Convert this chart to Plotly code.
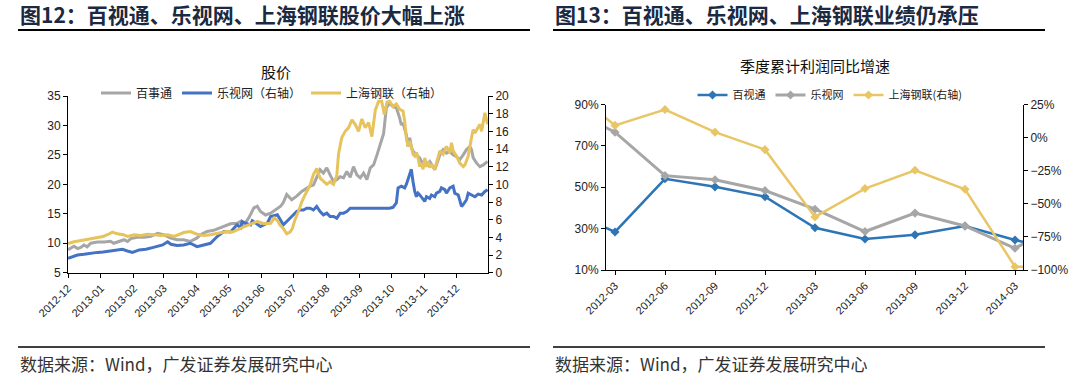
import pandas as pd
import numpy as np
import plotly.graph_objects as go

# ---------------- Left chart data (股价) ----------------
BASE_DATE = "2012-12-01"
bst_days = [0, 5.7, 9, 12, 15, 18, 21.4, 27.7, 34, 40, 43, 46.5, 52.8, 56, 59, 65.4, 71.7, 78, 84.3, 90.6,
            96, 102.5, 108.8, 115, 121.4, 124.5, 130.8, 137, 143.4, 148, 152.8, 159, 162.3, 165.4, 170, 174.8,
            178, 181, 185.8, 190.6, 196.9, 200, 202.5, 205.7, 210.4, 215.1, 219.8, 224.5, 227.7, 230.8, 233.9,
            237.1, 240.2, 243.4, 246.5, 249.7, 252.8, 256, 259.1, 262.2, 265.4, 268.5, 271.7, 274.8, 278, 281.1,
            284.3, 287.4, 290.6, 293.7, 296.8, 299.4, 302.5, 305.6, 308.8, 311.9, 313.5, 315.1, 318.2, 319.8,
            321.4, 322.9, 324.5, 327.7, 330.8, 332.4, 333.9, 335.5, 337.1, 340.2, 343.4, 344.9, 346.5, 349.7,
            352.8, 355.9, 359.1, 362.2, 365.4, 368.5, 371.7, 374.8, 378, 379.5, 381.1, 384.3, 387.4, 390.6, 394.6]
bst_vals = [8.9, 9.5, 9.1, 9.3, 9.7, 9.4, 10.0, 10.2, 10.2, 10.35, 10.0, 10.2, 10.6, 10.3, 10.8, 11.0, 11.0, 11.2,
            11.7, 11.4, 10.9, 10.6, 10.6, 10.3, 10.9, 11.45, 12.0, 12.2, 12.6, 12.9, 13.3, 13.4, 13.7, 13.1, 14.3,
            16.0, 16.3, 15.4, 14.8, 15.1, 16.0, 16.3, 16.9, 18.3, 17.4, 18.0, 18.8, 19.4, 19.7, 19.9, 21.3, 22.5,
            21.9, 22.8, 21.6, 20.5, 20.8, 21.3, 21.1, 22.2, 21.2, 23.0, 21.6, 21.1, 21.9, 20.8, 22.8, 23.3, 25.0,
            26.7, 28.6, 33.0, 33.8, 33.2, 33.0, 31.3, 30.1, 30.4, 28.4, 26.4, 27.9, 26.4, 25.6, 25.0, 24.5, 23.9,
            23.6, 24.2, 23.3, 23.9, 23.0, 22.5, 23.3, 25.0, 25.9, 25.3, 25.6, 25.0, 24.7, 24.2, 25.0, 25.9, 26.4,
            25.9, 24.5, 23.6, 23.0, 23.3, 23.9]

lsw_days = [0, 5, 8.8, 15, 21, 27.7, 33, 37.1, 42, 46.5, 51.2, 55.9, 60.6, 67, 73.3, 79.5, 84.3, 89, 93.7, 96.8,
            102.5, 108.8, 115, 121.4, 127.6, 134, 140.3, 146.5, 152.8, 159, 162.3, 163.8, 167, 171.7, 173.3, 178,
            181, 187.4, 190.6, 196.9, 199.4, 202.5, 205.7, 208.8, 211.9, 215.1, 218.2, 221.4, 224.5, 227.7, 230.8,
            233.9, 237.1, 240.2, 243.4, 246.5, 249.7, 252.8, 256, 259.1, 262.2, 265.4, 302.5, 305.6, 308.8, 310.4,
            313.5, 316.6, 318.2, 319.8, 321.4, 322.9, 324.5, 326.1, 327.7, 329.2, 330.8, 333.9, 335.5, 337.1, 340.2,
            341.8, 344.9, 346.5, 349.7, 351.2, 354.4, 355.9, 359.1, 362.2, 363.8, 367, 368.5, 370.1, 371.7, 373.3,
            374.8, 376.4, 379.5, 382.7, 385.8, 389, 392.1, 394.6]
lsw_vals = [1.63, 1.85, 2.0, 2.08, 2.2, 2.3, 2.35, 2.4, 2.5, 2.58, 2.65, 2.46, 2.3, 2.58, 2.65, 2.84, 2.95, 3.14,
            3.5, 3.22, 3.07, 3.14, 3.33, 2.95, 3.14, 3.33, 4.09, 4.66, 4.6, 5.42, 5.11, 5.8, 5.6, 5.42, 5.87, 5.5,
            5.23, 5.6, 6.36, 6.55, 6.0, 5.42, 5.8, 6.17, 6.55, 6.93, 7.1, 7.1, 7.3, 7.3, 7.1, 7.5, 6.93, 6.55, 6.74,
            6.36, 6.36, 6.17, 6.74, 6.74, 6.93, 7.3, 7.3, 7.4, 7.9, 9.6, 9.8, 9.6, 10.0, 10.5, 11.1, 11.7, 10.3, 9.2,
            8.6, 9.0, 8.8, 8.26, 8.07, 8.6, 8.4, 8.8, 8.6, 9.0, 9.2, 9.6, 9.4, 9.0, 9.6, 9.8, 9.0, 8.8, 8.07, 7.5,
            7.7, 8.07, 8.26, 9.0, 8.8, 8.6, 8.9, 8.8, 9.2, 9.4]

shgl_days = [0, 5.7, 15, 21, 27.7, 33, 37.1, 41.8, 46.5, 52, 55.9, 62.2, 68.5, 74.8, 81.1, 87.4, 93.7, 100, 108.8,
             115, 121.4, 127.6, 134, 143.4, 149.7, 155, 159, 165.4, 171.7, 178, 184.3, 190.6, 194, 197, 199.4, 202.5,
             205.7, 208.8, 211, 213.5, 216.6, 219.8, 222.9, 227.7, 230.8, 234, 237.1, 240.2, 243.4, 246.5, 249.7,
             252.8, 254.4, 257.5, 260.7, 263.8, 267, 270.1, 273.3, 276.4, 279.5, 282.7, 285.8, 289, 292.1, 295,
             297.5, 300, 302.5, 305.6, 308.8, 311.9, 315.1, 316.6, 318.2, 319.8, 321.4, 322.9, 324.5, 326.1, 327.7,
             329.2, 330.8, 332.4, 333.9, 335.5, 337.1, 338.7, 340.2, 341.8, 344.9, 346.5, 348.1, 349.7, 352.8,
             355.9, 359.1, 360.7, 362.2, 365.4, 368.5, 371.7, 373.3, 376.4, 379.5, 381.1, 382.7, 385.8, 387.4, 389,
             390.6, 392.1, 394.6]
shgl_vals = [3.3, 3.5, 3.7, 3.85, 4.0, 4.1, 4.3, 4.6, 4.4, 4.3, 4.1, 4.3, 4.2, 4.35, 4.3, 4.2, 4.3, 4.1, 4.55, 4.65,
             4.35, 4.2, 4.3, 4.55, 4.7, 4.6, 4.85, 5.2, 5.5, 5.8, 5.55, 5.6, 6.2, 5.9, 5.4, 5.0, 4.4, 4.6, 5.0, 6.0,
             6.9, 8.0, 8.8, 9.9, 11.1, 11.8, 10.7, 10.3, 10.0, 10.3, 10.0, 11.0, 13.4, 15.3, 16.0, 16.4, 17.3, 16.8,
             16.0, 17.4, 16.4, 17.0, 15.4, 18.4, 19.4, 19.4, 17.9, 19.3, 19.4, 18.8, 19.1, 18.5, 18.3, 17.2, 15.3,
             14.3, 14.9, 14.2, 13.4, 13.2, 13.6, 13.0, 12.0, 12.4, 11.7, 13.0, 12.0, 12.6, 11.9, 12.3, 11.7, 12.4,
             13.2, 13.8, 13.4, 14.3, 13.6, 14.7, 13.8, 13.2, 12.4, 12.0, 12.2, 13.2, 15.3, 16.2, 15.8, 16.4, 16.8,
             16.0, 17.3, 18.1, 16.8]

month_ticks = ["2012-12", "2013-01", "2013-02", "2013-03", "2013-04", "2013-05", "2013-06",
               "2013-07", "2013-08", "2013-09", "2013-10", "2013-11", "2013-12"]

# ---------------- Right chart data (季度累计利润同比增速) ----------------
quarters = ["2011-12", "2012-03", "2012-06", "2012-09", "2012-12", "2013-03", "2013-06",
            "2013-09", "2013-12", "2014-03", "2014-06"]
bst_growth = [39.5, 28.4, 54.1, 50.2, 45.4, 30.4, 25.0, 27.0, 31.3, 24.5, 18.9]
lsw_growth = [88.8, 76.6, 55.6, 53.6, 48.4, 39.4, 28.6, 37.5, 31.3, 20.5, 33.5]
shgl_growth = [39.8, 9.2, 21.2, 4.1, -9.1, -59.9, -38.5, -24.7, -39.0, -97.5, -97.5]
visible_quarters = quarters[1:-1]

# ---------------- Styling ----------------
W, H = 1080, 376
GRAY = "#A6A6A6"
BLUE_L = "#4472C4"
YEL_L = "#E6C35C"
BLUE_R = "#2E75B6"
YEL_R = "#E8C665"
CJK = "Noto Sans CJK SC"
NUM = "Liberation Sans"
TXT = "#222222"


def px_x(x):
    return x / W


def px_y(y):
    return 1 - y / H


def to_dates(days):
    return pd.Timestamp(BASE_DATE) + pd.to_timedelta(np.array(days), unit="D")


fig = go.Figure()

# left chart traces
fig.add_trace(go.Scatter(x=to_dates(bst_days), y=bst_vals, name="百事通", mode="lines",
                         line=dict(color=GRAY, width=3), xaxis="x", yaxis="y", legend="legend"))
fig.add_trace(go.Scatter(x=to_dates(lsw_days), y=lsw_vals, name="乐视网（右轴）", mode="lines",
                         line=dict(color=BLUE_L, width=3), xaxis="x", yaxis="y2", legend="legend"))
fig.add_trace(go.Scatter(x=to_dates(shgl_days), y=shgl_vals, name="上海钢联（右轴）", mode="lines",
                         line=dict(color=YEL_L, width=3), xaxis="x", yaxis="y2", legend="legend"))

# right chart traces
qx = np.arange(len(quarters)) - 1
fig.add_trace(go.Scatter(x=qx, y=np.array(bst_growth) / 100, name="百视通", mode="lines+markers",
                         line=dict(color=BLUE_R, width=2.5), marker=dict(symbol="diamond", size=7, color=BLUE_R),
                         xaxis="x2", yaxis="y3", legend="legend2"))
fig.add_trace(go.Scatter(x=qx, y=np.array(lsw_growth) / 100, name="乐视网", mode="lines+markers",
                         line=dict(color=GRAY, width=3), marker=dict(symbol="diamond", size=7, color=GRAY),
                         xaxis="x2", yaxis="y3", legend="legend2"))
fig.add_trace(go.Scatter(x=qx, y=np.array(shgl_growth) / 100, name="上海钢联(右轴)", mode="lines+markers",
                         line=dict(color=YEL_R, width=2.5), marker=dict(symbol="diamond", size=7, color=YEL_R),
                         xaxis="x2", yaxis="y4", legend="legend2"))

axis_common = dict(showline=True, linecolor="#000000", linewidth=1, showgrid=False, zeroline=False,
                   ticks="outside", ticklen=4, tickcolor="#000000", tickwidth=1,
                   tickfont=dict(family=NUM, size=12, color=TXT))

L_X0, L_X1, L_Y0, L_Y1 = 68, 488, 272.7, 96
R_X0, R_X1, R_Y0, R_Y1 = 606, 1023, 270, 104.5

fig.update_layout(
    width=W, height=H, margin=dict(l=0, r=0, t=0, b=0, autoexpand=False),
    paper_bgcolor="white", plot_bgcolor="white", showlegend=True,
    xaxis=dict(axis_common, domain=[px_x(L_X0), px_x(L_X1)], anchor="y", type="date",
               range=["2012-12-01", "2013-12-31"],
               tickvals=[m + "-01" for m in month_ticks], ticktext=month_ticks, tickangle=-45,
               tickfont=dict(family=NUM, size=11, color=TXT)),
    yaxis=dict(axis_common, domain=[px_y(L_Y0), px_y(L_Y1)], anchor="x", range=[5, 35], dtick=5, tick0=5),
    yaxis2=dict(axis_common, overlaying="y", side="right", anchor="x", range=[0, 20], dtick=2, tick0=0),
    xaxis2=dict(axis_common, domain=[px_x(R_X0), px_x(R_X1)], anchor="y3", range=[-0.18, 8.16],
                tickvals=list(range(len(visible_quarters))), ticktext=visible_quarters, tickangle=-45,
                tickfont=dict(family=NUM, size=11, color=TXT)),
    yaxis3=dict(axis_common, domain=[px_y(R_Y0), px_y(R_Y1)], anchor="x2", range=[0.10, 0.90], dtick=0.2,
                tick0=0.1, tickformat=".0%"),
    yaxis4=dict(axis_common, overlaying="y3", side="right", anchor="x2", range=[-1.0, 0.25], dtick=0.25,
                tick0=-1.0, tickformat=".0%"),
    legend=dict(orientation="h", x=px_x(272), xanchor="center", y=px_y(93), yanchor="middle",
                font=dict(family=CJK, size=12, color=TXT), bgcolor="rgba(0,0,0,0)",
                itemwidth=30, tracegroupgap=0),
    legend2=dict(orientation="h", x=px_x(830), xanchor="center", y=px_y(95), yanchor="middle",
                 font=dict(family=CJK, size=11, color=TXT), bgcolor="rgba(0,0,0,0)",
                 itemwidth=30, tracegroupgap=0),
)

annotations = [
    dict(text="<b>图12：百视通、乐视网、上海钢联股价大幅上涨</b>", x=px_x(18), y=px_y(14),
         xanchor="left", yanchor="middle", font=dict(family=CJK, size=21, color="#1B2A41")),
    dict(text="<b>图13：百视通、乐视网、上海钢联业绩仍承压</b>", x=px_x(553), y=px_y(14),
         xanchor="left", yanchor="middle", font=dict(family=CJK, size=21, color="#1B2A41")),
    dict(text="股价", x=px_x(276), y=px_y(71), xanchor="center", yanchor="middle",
         font=dict(family=CJK, size=15, color="#111111")),
    dict(text="季度累计利润同比增速", x=px_x(815), y=px_y(66), xanchor="center", yanchor="middle",
         font=dict(family=CJK, size=15, color="#111111")),
    dict(text="数据来源：Wind，广发证券发展研究中心", x=px_x(18), y=px_y(363), xanchor="left", yanchor="middle",
         font=dict(family=CJK, size=17, color="#333333")),
    dict(text="数据来源：Wind，广发证券发展研究中心", x=px_x(553), y=px_y(363), xanchor="left", yanchor="middle",
         font=dict(family=CJK, size=17, color="#333333")),
]
for a in annotations:
    a.update(xref="paper", yref="paper", showarrow=False)
fig.update_layout(annotations=annotations)

shapes = []
for (x0, x1) in [(18, 530), (553, 1045)]:
    shapes.append(dict(type="line", xref="paper", yref="paper", x0=px_x(x0), x1=px_x(x1),
                       y0=px_y(30), y1=px_y(30), line=dict(color="#000000", width=2)))
    shapes.append(dict(type="line", xref="paper", yref="paper", x0=px_x(x0), x1=px_x(x1),
                       y0=px_y(347), y1=px_y(347), line=dict(color="#000000", width=1.5)))
fig.update_layout(shapes=shapes)

fig.write_html("out.html", config={"displayModeBar": False},
               post_script="document.body.style.margin='0';document.body.style.overflow='hidden';")
